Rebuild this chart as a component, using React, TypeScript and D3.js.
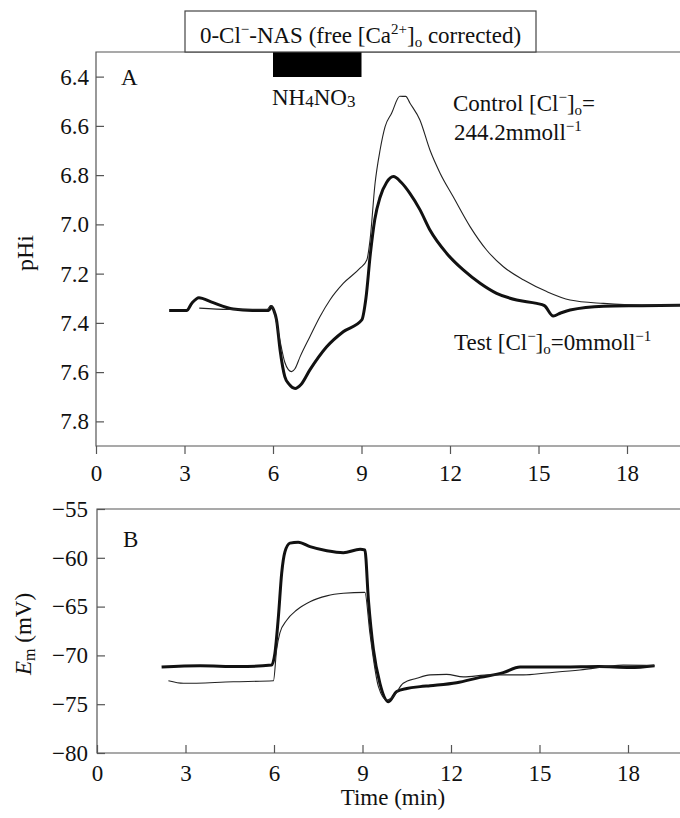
import React, { useEffect, useRef } from "react";
import * as d3 from "d3";

// panel A: pHi, thick = test ([Cl-]o = 0), thin = control
const timeTestA = [2.48, 3.07, 3.25, 3.49, 3.9, 4.65, 5.3, 5.85, 5.95, 6.03, 6.12, 6.24, 6.4, 6.55, 6.75, 6.95, 7.25, 7.82, 8.38, 9.01, 9.15, 9.3, 9.45, 9.63, 9.85, 10.08, 10.35, 10.64, 10.98, 11.32, 11.89, 12.45, 13.02, 13.58, 14.26, 14.94, 15.2, 15.5, 15.75, 16.07, 17.2, 18.5, 19.8];
const phTestA = [7.35, 7.35, 7.32, 7.298, 7.315, 7.344, 7.35, 7.35, 7.334, 7.35, 7.388, 7.51, 7.618, 7.65, 7.666, 7.65, 7.591, 7.497, 7.436, 7.388, 7.3, 7.12, 6.98, 6.89, 6.83, 6.806, 6.83, 6.874, 6.94, 7.023, 7.118, 7.185, 7.239, 7.28, 7.307, 7.321, 7.33, 7.372, 7.36, 7.348, 7.332, 7.33, 7.328];

const timeCtrlA = [3.5, 4.5, 5.8, 5.92, 6.02, 6.12, 6.25, 6.4, 6.52, 6.63, 6.75, 6.92, 7.25, 7.59, 7.93, 8.38, 8.95, 9.18, 9.29, 9.46, 9.63, 9.8, 10.02, 10.3, 10.5, 10.64, 10.98, 11.32, 11.66, 12.11, 12.68, 13.24, 13.81, 14.5, 15.28, 16.07, 17.2, 18.5, 19.8];
const phCtrlA = [7.34, 7.345, 7.345, 7.33, 7.345, 7.4, 7.48, 7.56, 7.59, 7.598, 7.585, 7.537, 7.456, 7.375, 7.307, 7.24, 7.178, 7.145, 7.063, 6.833, 6.698, 6.603, 6.549, 6.48, 6.48, 6.507, 6.576, 6.698, 6.791, 6.888, 7.009, 7.104, 7.172, 7.226, 7.273, 7.307, 7.321, 7.328, 7.328];

// panel B: Em (mV)
const timeTestB = [2.19, 3.5, 4.8, 5.92, 6.03, 6.15, 6.26, 6.37, 6.54, 6.82, 7.22, 7.79, 8.35, 8.92, 9.08, 9.2, 9.37, 9.59, 9.88, 10.16, 10.5, 10.95, 11.29, 12.19, 12.98, 13.77, 14.34, 15.8, 17.0, 18.07, 18.9];
const emTestB = [-71.2, -71.05, -71.15, -70.98, -69.8, -66.0, -61.6, -59.4, -58.5, -58.4, -58.86, -59.27, -59.47, -59.13, -59.2, -64.3, -69.4, -72.86, -74.74, -73.7, -73.4, -73.2, -73.1, -72.8, -72.25, -71.77, -71.2, -71.2, -71.15, -71.25, -71.05];

const timeCtrlB = [2.42, 2.93, 4.62, 5.98, 6.09, 6.2, 6.43, 6.77, 7.22, 7.79, 8.35, 9.08, 9.25, 9.54, 9.82, 10.05, 10.38, 10.84, 11.29, 11.85, 12.42, 13.32, 14.45, 15.24, 16.37, 17.84, 18.9];
const emCtrlB = [-72.6, -72.86, -72.7, -72.6, -69.4, -67.7, -66.4, -65.35, -64.5, -63.9, -63.64, -63.54, -67.7, -73.2, -74.57, -74.2, -72.86, -72.35, -72.0, -71.94, -72.2, -72.0, -72.0, -71.8, -71.5, -71.0, -71.05];

const xTicks = [0, 3, 6, 9, 12, 15, 18];
const phTicks = [6.4, 6.6, 6.8, 7.0, 7.2, 7.4, 7.6, 7.8];
const emTicks = [-80, -75, -70, -65, -60, -55];

const FONT = "Liberation Serif, Times New Roman, serif";

const App = () => {
  const gRef = useRef<SVGGElement>(null);

  useEffect(() => {
    const g = d3.select(gRef.current);
    g.selectAll("*").remove();

    const xA = d3.scaleLinear().domain([0, 20]).range([96, 686]);
    const yA = d3.scaleLinear().domain([6.3, 7.9]).range([52, 446]);
    const xB = d3.scaleLinear().domain([0, 20]).range([97, 687]);
    const yB = d3.scaleLinear().domain([-80, -55]).range([753, 509]);

    const frame = "#555";

    const fr = g.append("g").attr("stroke", frame).attr("stroke-width", 1.2).attr("fill", "none");
    fr.append("path").attr("d", `M680,${yA(6.3)}H${xA(0)}V${yA(7.9)}H680`);
    fr.append("path").attr("d", `M680,${yB(-55)}H${xB(0)}V${yB(-80)}H680`);

    const styleAxis = (s: any) => {
      s.attr("font-family", null).attr("font-size", null);
      s.select(".domain").remove();
      s.selectAll("line").attr("stroke", frame).attr("stroke-width", 1.2);
      s.selectAll("text").style("font-family", FONT).style("font-size", "23px").attr("fill", "#111");
    };

    g.append("g").attr("transform", `translate(${xA(0)},0)`)
      .call(d3.axisLeft(yA).tickValues(phTicks).tickFormat(d3.format(".1f")).tickSize(-8).tickPadding(7))
      .call(styleAxis);
    g.append("g").attr("transform", `translate(0,${yA(7.9)})`)
      .call(d3.axisBottom(xA).tickValues(xTicks).tickFormat(d3.format("d")).tickSize(8).tickPadding(11))
      .call(styleAxis);
    g.append("g").attr("transform", `translate(${xB(0)},0)`)
      .call(d3.axisLeft(yB).tickValues(emTicks).tickFormat(d3.format("d")).tickSize(-8).tickPadding(9))
      .call(styleAxis);
    g.append("g").attr("transform", `translate(0,${yB(-80)})`)
      .call(d3.axisBottom(xB).tickValues(xTicks).tickFormat(d3.format("d")).tickSize(-8).tickPadding(12))
      .call(styleAxis);

    const drawLine = (xs: number[], ys: number[], x: any, y: any, w: number, col: string) => {
      const pts = xs.map((t, i) => [t, ys[i]] as [number, number]);
      const gen = d3.line<[number, number]>().x(d => x(d[0])).y(d => y(d[1])).curve(d3.curveMonotoneX);
      g.append("path").datum(pts).attr("d", gen).attr("fill", "none")
        .attr("stroke", col).attr("stroke-width", w).attr("stroke-linejoin", "round");
    };

    drawLine(timeTestA, phTestA, xA, yA, 3, "#111");
    drawLine(timeCtrlA, phCtrlA, xA, yA, 1.1, "#222");
    drawLine(timeTestB, emTestB, xB, yB, 3, "#111");
    drawLine(timeCtrlB, emCtrlB, xB, yB, 1.1, "#222");

    // NH4NO3 application bar, 6-9 min
    g.append("rect").attr("x", xA(6)).attr("y", yA(6.3)).attr("width", xA(9) - xA(6)).attr("height", 25).attr("fill", "#000");
  }, []);

  return (
    <svg width={680} height={818} style={{ position: "absolute", left: 0, top: 0, background: "#fff" }} fontFamily={FONT} fill="#111">
      <g ref={gRef} />
      <rect x={185} y={11} width={351} height={41} fill="#fff" stroke="#444" strokeWidth={1.2} />
      <text x={360.5} y={43} textAnchor="middle" fontSize={23}>
        0-Cl<tspan dy={-9} fontSize={15}>−</tspan><tspan dy={9}>-NAS (free [Ca</tspan>
        <tspan dy={-9} fontSize={15}>2+</tspan><tspan dy={9}>]</tspan>
        <tspan dy={4} fontSize={15}>o</tspan><tspan dy={-4}> corrected)</tspan>
      </text>
      <text x={121} y={85} fontSize={23}>A</text>
      <text x={123} y={547} fontSize={23}>B</text>
      <text x={272} y={105} fontSize={23}>
        NH<tspan fontSize={17} dy={2}>4</tspan><tspan dy={-2}>NO</tspan><tspan fontSize={17} dy={2}>3</tspan>
      </text>
      <text x={453} y={111} fontSize={23}>
        Control [Cl<tspan dy={-9} fontSize={15}>−</tspan><tspan dy={9}>]</tspan>
        <tspan dy={4} fontSize={15}>o</tspan><tspan dy={-4}>=</tspan>
      </text>
      <text x={454} y={140} fontSize={23}>
        244.2mmoll<tspan dy={-9} fontSize={15}>−1</tspan>
      </text>
      <text x={454} y={350} fontSize={23}>
        Test [Cl<tspan dy={-9} fontSize={15}>−</tspan><tspan dy={9}>]</tspan>
        <tspan dy={4} fontSize={15}>o</tspan><tspan dy={-4}>=0mmoll</tspan>
        <tspan dy={-9} fontSize={15}>−1</tspan>
      </text>
      <text transform="translate(33,253) rotate(-90)" textAnchor="middle" fontSize={24}>pHi</text>
      <text transform="translate(31,634) rotate(-90)" textAnchor="middle" fontSize={23}>
        <tspan fontStyle="italic">E</tspan><tspan fontSize={16} dy={4}>m</tspan><tspan dy={-4}> (mV)</tspan>
      </text>
      <text x={393} y={805} textAnchor="middle" fontSize={23}>Time (min)</text>
    </svg>
  );
};

export default App;
